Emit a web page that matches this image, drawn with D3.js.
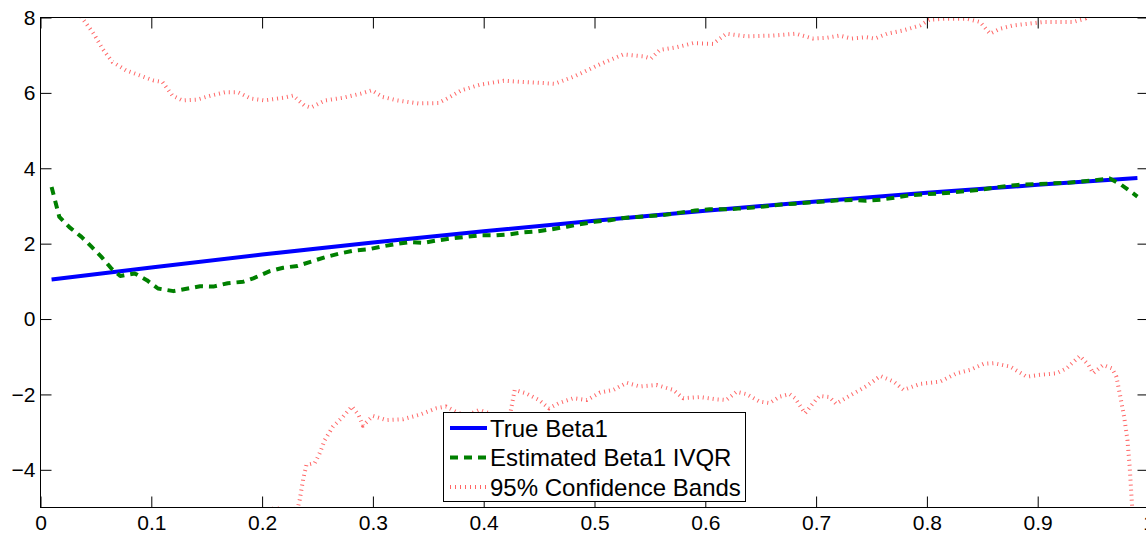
<!DOCTYPE html>
<html>
<head>
<meta charset="utf-8">
<script src="https://cdn.jsdelivr.net/npm/d3@7"></script>
<style>
  html, body { margin: 0; padding: 0; background: #fff; }
  svg { display: block; }
  text { font-family: "Liberation Sans", Arial, Helvetica, sans-serif; fill: #000; }
</style>
</head>
<body>
<svg id="chart" width="1146" height="535"></svg>
<script>
// ---------------- data ----------------
const xTicks = [0, 0.1, 0.2, 0.3, 0.4, 0.5, 0.6, 0.7, 0.8, 0.9, 1];
const xTickLabels = ["0", "0.1", "0.2", "0.3", "0.4", "0.5", "0.6", "0.7", "0.8", "0.9", "1"];
const yTicks = [-4, -2, 0, 2, 4, 6, 8];

const legendLabels = ["True Beta1", "Estimated Beta1 IVQR", "95% Confidence Bands"];

// True Beta1
const tauTrue = [0.01, 0.1, 0.2, 0.3, 0.4, 0.5, 0.6, 0.7, 0.8, 0.9, 0.99];
const betaTrue = [1.05, 1.37, 1.71, 2.03, 2.33, 2.61, 2.87, 3.12, 3.35, 3.56, 3.74];

// Estimated Beta1 IVQR
const tauEst = [0.01, 0.017, 0.026, 0.037, 0.046, 0.055, 0.064, 0.072, 0.085, 0.096, 0.106, 0.12, 0.144, 0.156, 0.169, 0.183, 0.192, 0.207, 0.219, 0.232, 0.246, 0.258, 0.27, 0.282, 0.296, 0.309, 0.321, 0.333, 0.345, 0.359, 0.371, 0.384, 0.396, 0.41, 0.424, 0.436, 0.449, 0.461, 0.475, 0.488, 0.5, 0.514, 0.526, 0.539, 0.553, 0.565, 0.579, 0.591, 0.604, 0.618, 0.63, 0.643, 0.655, 0.669, 0.681, 0.694, 0.708, 0.72, 0.733, 0.745, 0.759, 0.771, 0.784, 0.798, 0.81, 0.824, 0.836, 0.849, 0.861, 0.875, 0.888, 0.9, 0.914, 0.926, 0.939, 0.951, 0.965, 0.975, 0.99];
const betaEst = [3.5, 2.71, 2.44, 2.18, 1.92, 1.65, 1.34, 1.14, 1.21, 1.03, 0.81, 0.74, 0.87, 0.86, 0.95, 0.99, 1.08, 1.27, 1.36, 1.41, 1.54, 1.65, 1.74, 1.81, 1.85, 1.93, 1.99, 2.04, 2.02, 2.09, 2.14, 2.18, 2.22, 2.22, 2.25, 2.30, 2.33, 2.38, 2.45, 2.52, 2.58, 2.62, 2.68, 2.71, 2.74, 2.77, 2.83, 2.88, 2.91, 2.91, 2.93, 2.96, 2.99, 3.04, 3.06, 3.09, 3.12, 3.15, 3.16, 3.14, 3.17, 3.22, 3.28, 3.31, 3.33, 3.36, 3.40, 3.43, 3.49, 3.54, 3.57, 3.58, 3.60, 3.61, 3.65, 3.68, 3.73, 3.57, 3.25];

// 95% confidence band, upper
const tauUpper = [0.01, 0.02, 0.03, 0.038, 0.048, 0.056, 0.065, 0.077, 0.09, 0.102, 0.11, 0.119, 0.128, 0.141, 0.154, 0.167, 0.178, 0.19, 0.202, 0.219, 0.228, 0.238, 0.244, 0.257, 0.273, 0.289, 0.299, 0.309, 0.322, 0.341, 0.359, 0.367, 0.38, 0.397, 0.418, 0.436, 0.454, 0.464, 0.482, 0.505, 0.526, 0.544, 0.551, 0.559, 0.574, 0.589, 0.607, 0.619, 0.637, 0.661, 0.682, 0.697, 0.709, 0.721, 0.732, 0.745, 0.753, 0.764, 0.779, 0.794, 0.802, 0.818, 0.836, 0.848, 0.857, 0.866, 0.878, 0.89, 0.905, 0.92, 0.932, 0.943, 0.955, 0.97, 0.99];
const upperBand = [9.1, 8.7, 8.3, 7.97, 7.57, 7.17, 6.82, 6.60, 6.46, 6.33, 6.29, 5.93, 5.80, 5.82, 5.93, 6.02, 6.02, 5.85, 5.80, 5.87, 5.93, 5.67, 5.61, 5.80, 5.87, 5.98, 6.07, 5.89, 5.80, 5.72, 5.73, 5.85, 6.07, 6.22, 6.32, 6.29, 6.26, 6.24, 6.44, 6.76, 7.02, 6.97, 6.91, 7.14, 7.21, 7.32, 7.30, 7.57, 7.50, 7.52, 7.57, 7.44, 7.46, 7.52, 7.44, 7.48, 7.44, 7.57, 7.66, 7.79, 7.94, 7.97, 7.97, 7.88, 7.57, 7.70, 7.79, 7.83, 7.88, 7.88, 7.88, 7.97, 8.3, 8.8, 9.6];

// 95% confidence band, lower
const tauLower = [0.01, 0.05, 0.1, 0.15, 0.19, 0.205, 0.212, 0.222, 0.2325, 0.234, 0.237, 0.24, 0.2476, 0.252, 0.2566, 0.264, 0.273, 0.281, 0.287, 0.291, 0.3, 0.312, 0.327, 0.342, 0.357, 0.366, 0.375, 0.384, 0.396, 0.41, 0.42, 0.424, 0.428, 0.438, 0.45, 0.459, 0.468, 0.481, 0.493, 0.505, 0.517, 0.529, 0.541, 0.556, 0.571, 0.58, 0.595, 0.61, 0.619, 0.628, 0.637, 0.649, 0.658, 0.667, 0.676, 0.681, 0.69, 0.696, 0.703, 0.712, 0.718, 0.73, 0.745, 0.758, 0.77, 0.779, 0.794, 0.812, 0.827, 0.839, 0.851, 0.86, 0.875, 0.89, 0.902, 0.917, 0.926, 0.938, 0.946, 0.95, 0.959, 0.967, 0.971, 0.974, 0.978, 0.981, 0.983, 0.985, 0.99];
const lowerBand = [-14, -11, -8.5, -6.8, -5.7, -5.2, -4.97, -5.25, -4.97, -4.79, -4.26, -3.87, -3.82, -3.56, -3.21, -2.85, -2.59, -2.32, -2.54, -2.83, -2.57, -2.68, -2.66, -2.54, -2.37, -2.32, -2.46, -2.57, -2.41, -2.55, -2.65, -2.5, -1.88, -1.97, -2.15, -2.37, -2.23, -2.10, -2.15, -1.95, -1.88, -1.69, -1.79, -1.75, -1.88, -2.10, -2.07, -2.13, -2.15, -1.93, -1.99, -2.19, -2.23, -2.06, -1.99, -2.10, -2.50, -2.28, -2.04, -2.07, -2.25, -2.04, -1.79, -1.51, -1.66, -1.88, -1.72, -1.66, -1.44, -1.35, -1.19, -1.17, -1.26, -1.53, -1.48, -1.44, -1.31, -0.98, -1.22, -1.44, -1.22, -1.31, -1.53, -1.97, -2.59, -3.21, -3.91, -4.88, -6.5];

// ---------------- layout ----------------
const svg = d3.select("#chart");
const L = 40.5, R = 1148.5, T = 17.5, B = 507.5;
const x = d3.scaleLinear().domain([0, 1]).range([L, R]);
const y = d3.scaleLinear().domain([-5, 8]).range([B, T]);

svg.append("defs").append("clipPath").attr("id", "plotclip")
  .append("rect").attr("x", L).attr("y", T).attr("width", R - L).attr("height", B - T);

const zip = (xs, ys) => xs.map((v, i) => [v, ys[i]]);
const line = d3.line().x(d => x(d[0])).y(d => y(d[1]));
const smoothLine = d3.line().x(d => x(d[0])).y(d => y(d[1])).curve(d3.curveMonotoneX);

const plot = svg.append("g").attr("clip-path", "url(#plotclip)");

const styles = {
  true: { stroke: "#0000ff", width: 4, dash: null, opacity: 1 },
  est: { stroke: "#008000", width: 4, dash: "8,6", opacity: 1 },
  band: { stroke: "#ff0000", width: 4, dash: "1,4", opacity: 0.6 }
};

function draw(g, data, s, gen) {
  const p = g.append("path").datum(data)
    .attr("fill", "none")
    .attr("stroke", s.stroke)
    .attr("stroke-width", s.width)
    .attr("stroke-opacity", s.opacity)
    .attr("stroke-linejoin", "round")
    .attr("d", gen || line);
  if (s.dash) p.attr("stroke-dasharray", s.dash);
  return p;
}

draw(plot, zip(tauTrue, betaTrue), styles.true, smoothLine);
draw(plot, zip(tauEst, betaEst), styles.est);
draw(plot, zip(tauUpper, upperBand), styles.band);
draw(plot, zip(tauLower, lowerBand), styles.band);

// ---------------- axes ----------------
const fmtX = (d, i) => xTickLabels[i];
const gx = svg.append("g").attr("transform", `translate(0,${B})`)
  .call(d3.axisBottom(x).tickValues(xTicks).tickFormat(fmtX).tickSizeInner(-11).tickSizeOuter(0).tickPadding(8));
const gy = svg.append("g").attr("transform", `translate(${L},0)`)
  .call(d3.axisLeft(y).tickValues(yTicks).tickSizeInner(-11).tickSizeOuter(0).tickPadding(5));
const gxt = svg.append("g").attr("transform", `translate(0,${T})`)
  .call(d3.axisTop(x).tickValues(xTicks).tickFormat("").tickSizeInner(-11).tickSizeOuter(0));
const gyr = svg.append("g").attr("transform", `translate(${R},0)`)
  .call(d3.axisRight(y).tickValues(yTicks).tickFormat("").tickSizeInner(-11).tickSizeOuter(0));

[gx, gy, gxt, gyr].forEach(g => {
  g.select(".domain").remove();
  g.selectAll(".tick line").attr("stroke", "#000").attr("stroke-width", 1);
  g.selectAll(".tick text").attr("font-size", 21).attr("fill", "#000")
    .style("font-family", "'Liberation Sans', Arial, Helvetica, sans-serif");
});

svg.append("rect").attr("x", L).attr("y", T).attr("width", R - L).attr("height", B - T)
  .attr("fill", "none").attr("stroke", "#000").attr("stroke-width", 1);

// ---------------- legend ----------------
const lg = svg.append("g");
const lx0 = 443.5, ly0 = 412.5, lw = 302, lh = 89;
lg.append("rect").attr("x", lx0).attr("y", ly0).attr("width", lw).attr("height", lh)
  .attr("fill", "#fff").attr("stroke", "#000").attr("stroke-width", 1);
const legStyles = [styles.true, styles.est, styles.band];
const rowY = d3.scaleLinear().domain([0, 2]).range([428, 487]);
legendLabels.forEach((lab, i) => {
  const cy = rowY(i);
  const s = legStyles[i];
  const l = lg.append("line").attr("x1", 450).attr("x2", 487).attr("y1", cy).attr("y2", cy)
    .attr("stroke", s.stroke).attr("stroke-width", s.width).attr("stroke-opacity", s.opacity);
  if (s.dash) l.attr("stroke-dasharray", s.dash);
  lg.append("text").attr("x", 490).attr("y", cy + 8.5)
    .attr("font-size", 24).text(lab);
});
</script>
</body>
</html>
